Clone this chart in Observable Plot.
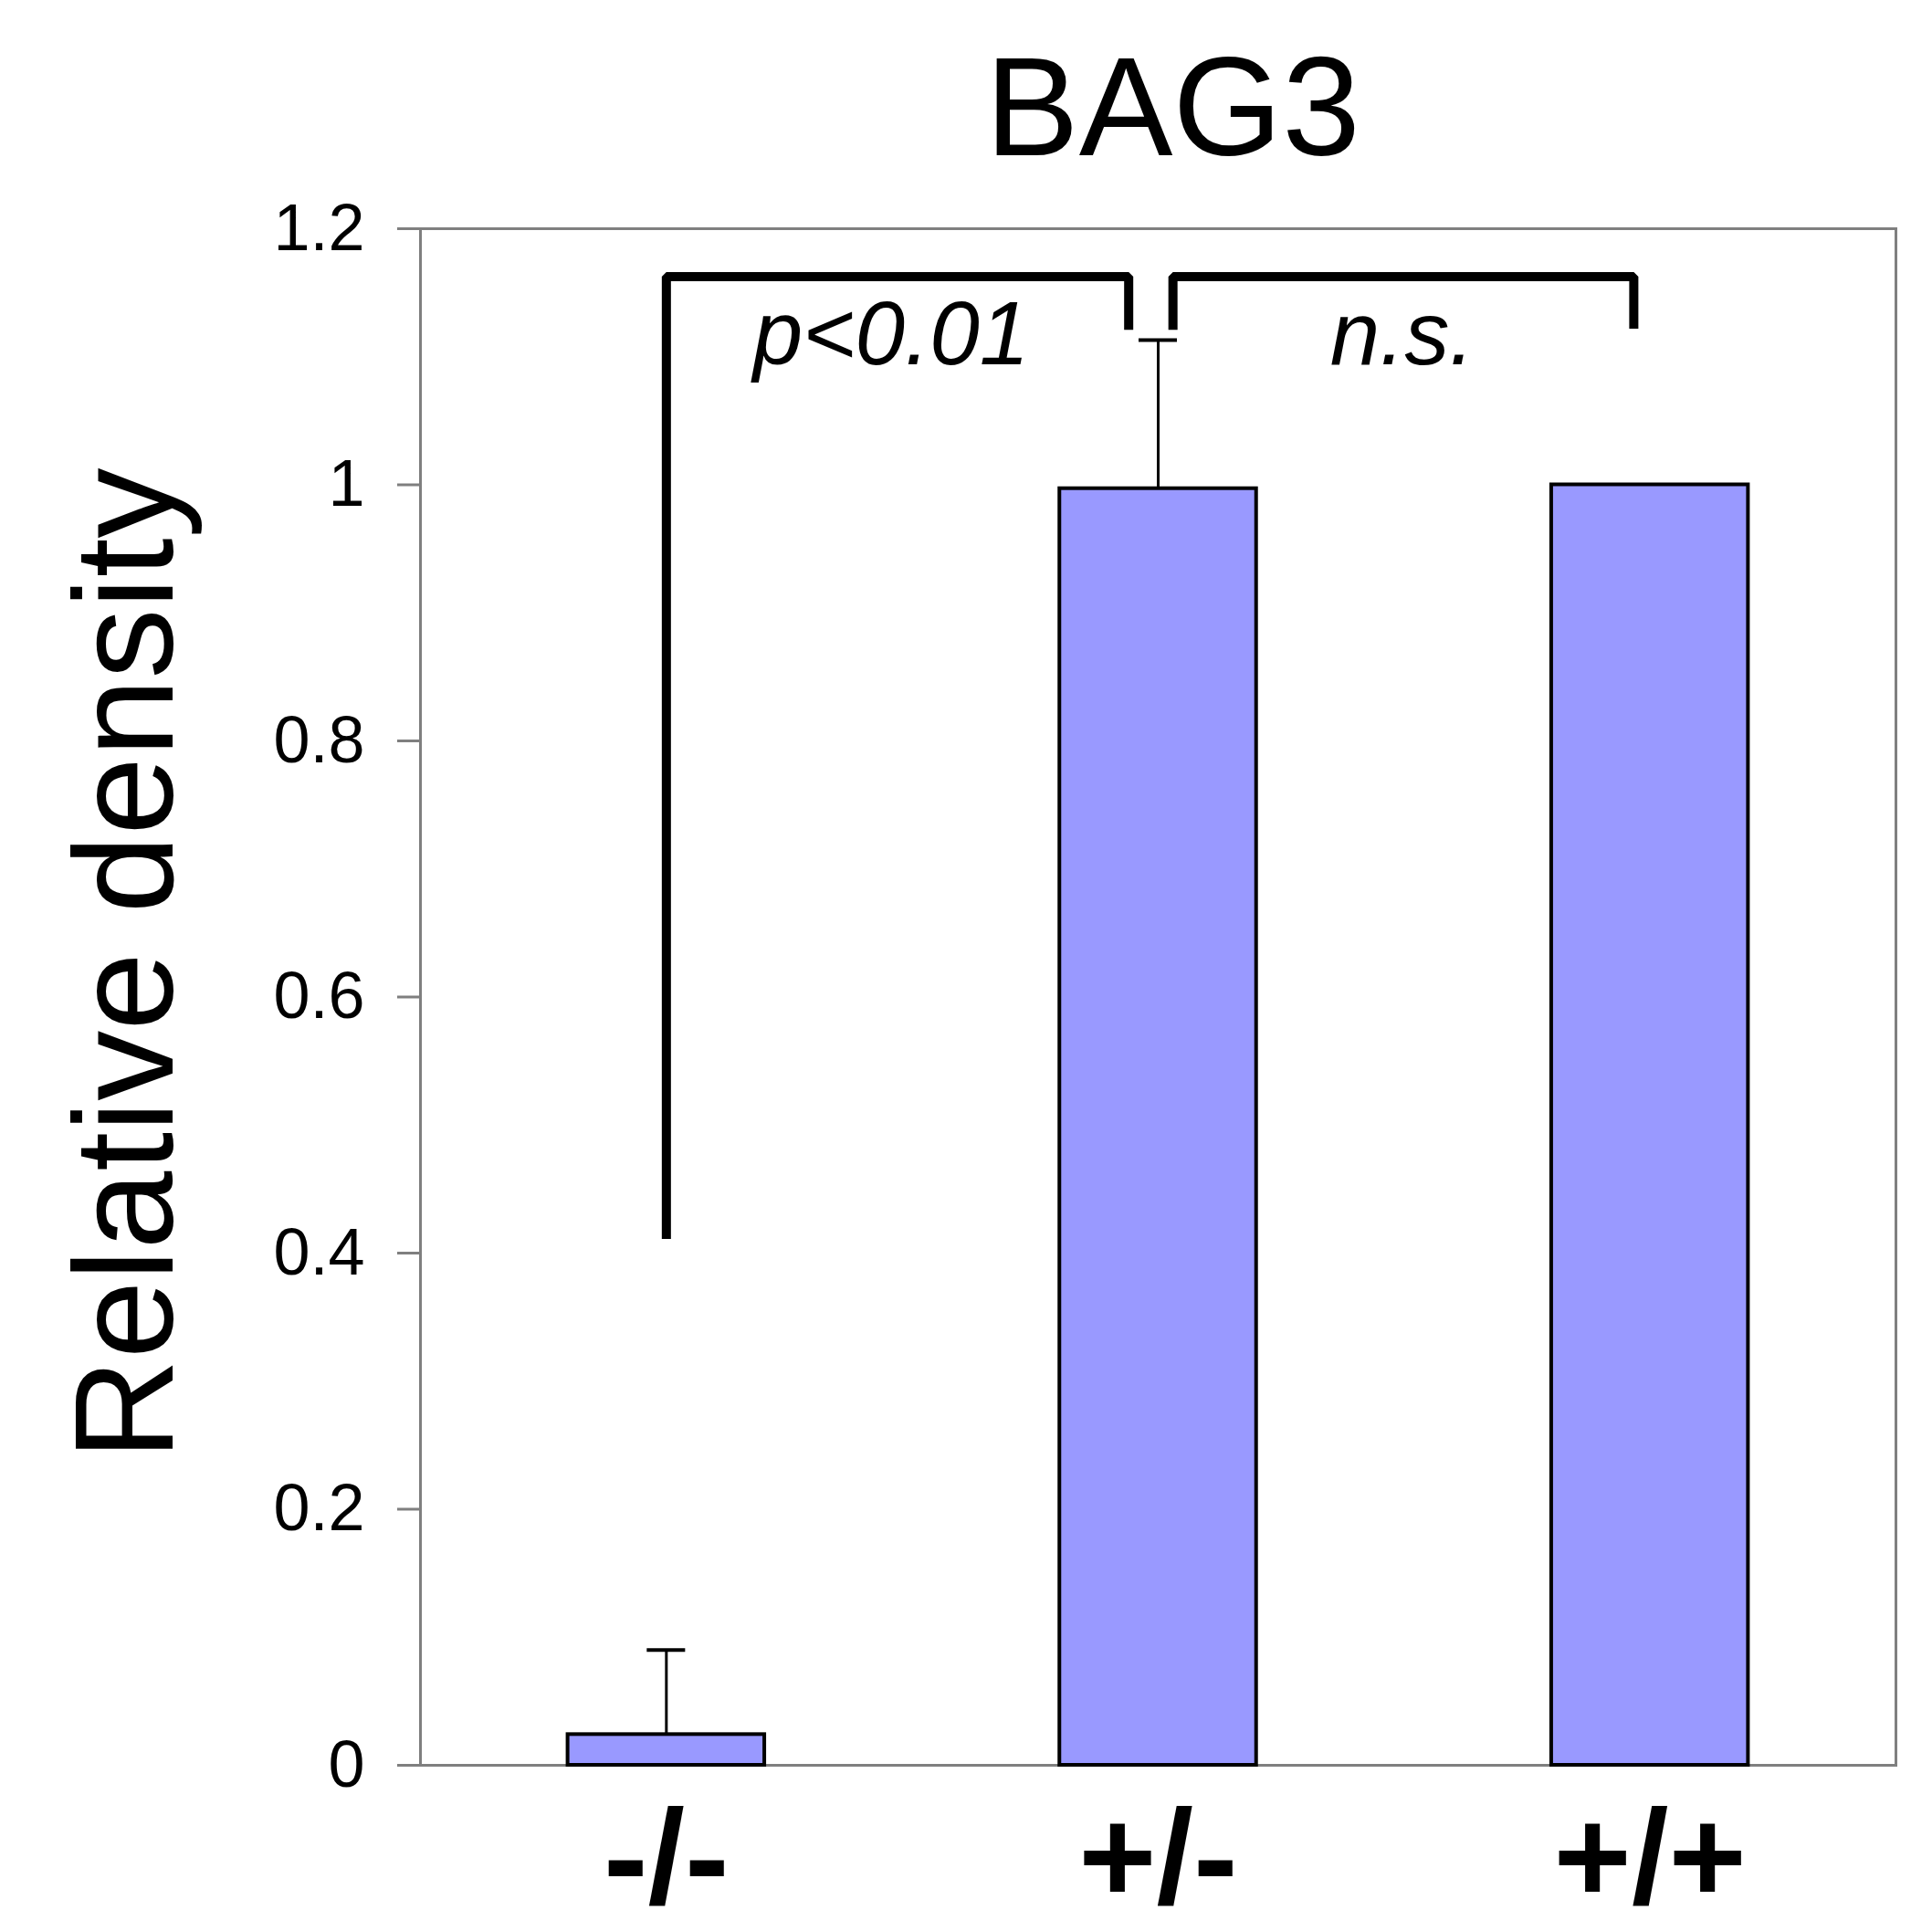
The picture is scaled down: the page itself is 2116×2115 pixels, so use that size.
<!DOCTYPE html>
<html><head><meta charset="utf-8">
<script src="https://cdn.jsdelivr.net/npm/d3@7"></script>
<script src="https://cdn.jsdelivr.net/npm/@observablehq/plot@0.6"></script>
<style>body{margin:0;background:#fff} svg{display:block}</style>
</head><body><div id="chart"></div>
<script>
const title = "BAG3";
const yLabel = "Relative density";
const categories = ["-/-", "+/-", "+/+"];
const means = [0.024, 0.997, 1.0];
const errors = [0.066, 0.116, 0];
const yTicks = [0, 0.2, 0.4, 0.6, 0.8, 1, 1.2];
// significance brackets (x in category index units, y in data units)
const bracket1X = [0, 0, 0.94, 0.94];
const bracket1Y = [0.411, 1.1625, 1.1625, 1.121];
const bracket2X = [1.03, 1.03, 1.967, 1.967];
const bracket2Y = [1.121, 1.1625, 1.1625, 1.122];
const annotations = ["p<0.01", "n.s."];
const annotationX = [0.457, 1.496];
const annotationY = [1.1165, 1.1165];

const font = "'Liberation Sans', Arial, sans-serif";
const bars = categories.map((c, i) => ({i, cat: c, mean: means[i], err: errors[i]}));
const errBars = bars.filter(d => d.err > 0);
const brackets = [
  ...bracket1X.map((x, k) => ({id: 1, x, y: bracket1Y[k]})),
  ...bracket2X.map((x, k) => ({id: 2, x, y: bracket2Y[k]}))
];
const notes = annotations.map((t, k) => ({t, x: annotationX[k], y: annotationY[k]}));

const chart = Plot.plot({
  width: 2116,
  height: 2115,
  marginLeft: 460,
  marginRight: 40,
  marginTop: 250,
  marginBottom: 182,
  style: {background: "#fff", fontFamily: font, color: "black"},
  x: {domain: [-0.5, 2.5]},
  y: {domain: [0, 1.2]},
  marks: [
    Plot.frame({stroke: "#7f7f7f", strokeWidth: 3}),
    Plot.axisY({ticks: yTicks, tickFormat: d => String(d), tickSize: 25, tickPadding: 36,
      stroke: "#7f7f7f", strokeWidth: 3, fill: "black", fontSize: 72, label: null}),
    Plot.axisX({ticks: [0, 1, 2], tickFormat: i => categories[i], tickSize: 0, tickPadding: 47,
      fill: "black", fontSize: 146, fontWeight: "bold", label: null}),
    Plot.rectY(bars, {x1: d => d.i - 0.2, x2: d => d.i + 0.2, y1: 0, y2: "mean",
      fill: "#9999ff", stroke: "black", strokeWidth: 4}),
    Plot.ruleX(errBars, {x: "i", y1: "mean", y2: d => d.mean + d.err, stroke: "black", strokeWidth: 3}),
    Plot.ruleY(errBars, {y: d => d.mean + d.err, x1: d => d.i - 0.039, x2: d => d.i + 0.039,
      stroke: "black", strokeWidth: 4}),
    Plot.line(brackets, {x: "x", y: "y", z: "id", stroke: "black", strokeWidth: 10,
      strokeLinejoin: "miter", strokeLinecap: "butt", curve: "linear"}),
    Plot.text(notes, {x: "x", y: "y", text: "t", fontSize: 98, fontStyle: "italic",
      lineAnchor: "middle", fill: "black"}),
    Plot.text([title], {frameAnchor: "top", dx: 16, dy: -130, fontSize: 154,
      lineAnchor: "middle", fill: "black"}),
    Plot.text([yLabel], {frameAnchor: "left", textAnchor: "middle", rotate: -90, dx: -321, dy: -36,
      fontSize: 154, lineAnchor: "middle", fill: "black"})
  ]
});
document.getElementById("chart").append(chart);
</script>
</body></html>
